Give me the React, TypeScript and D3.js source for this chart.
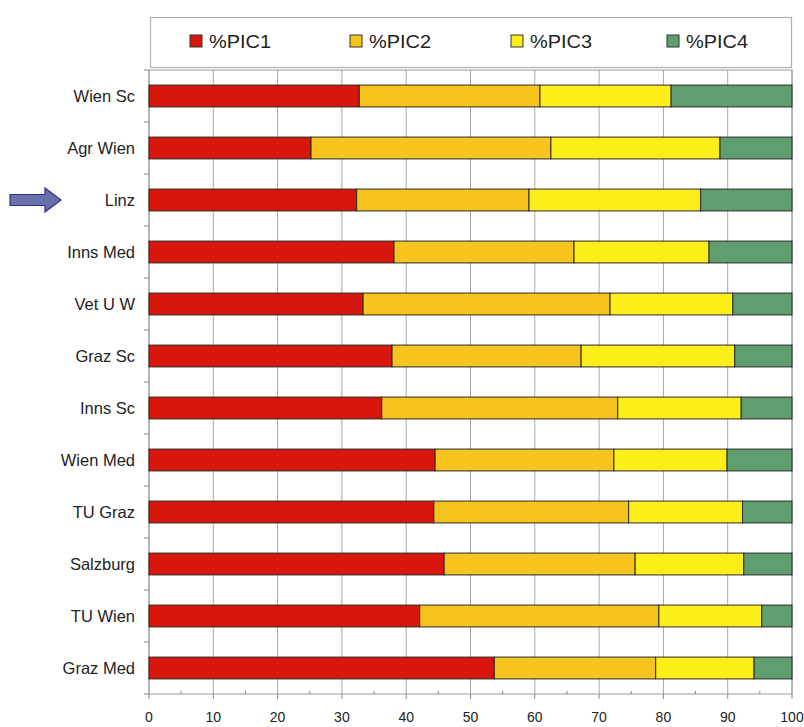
import React from "react";
import * as d3 from "d3";

const categories = ["Wien Sc", "Agr Wien", "Linz", "Inns Med", "Vet U W", "Graz Sc", "Inns Sc", "Wien Med", "TU Graz", "Salzburg", "TU Wien", "Graz Med"];
const seriesNames = ["%PIC1", "%PIC2", "%PIC3", "%PIC4"];
const pic1 = [32.7, 25.2, 32.3, 38.1, 33.3, 37.8, 36.2, 44.5, 44.3, 45.9, 42.1, 53.7];
const pic2 = [28.1, 37.3, 26.8, 28.0, 38.4, 29.4, 36.7, 27.8, 30.3, 29.7, 37.2, 25.1];
const pic3 = [20.4, 26.3, 26.7, 21.0, 19.1, 23.9, 19.2, 17.6, 17.7, 16.9, 16.0, 15.3];
const pic4 = [18.8, 11.2, 14.2, 12.9, 9.2, 8.9, 7.9, 10.1, 7.7, 7.5, 4.7, 5.9];
const xTicks = [0, 10, 20, 30, 40, 50, 60, 70, 80, 90, 100];
const colors = ["#d8160b", "#f6c41c", "#fcee18", "#5f9e6e"];
const highlighted = "Linz";

export default function App() {
  const W = 804, H = 727;
  const left = 149, right = 792, top = 70, bottom = 694;
  const x = d3.scaleLinear().domain([0, 100]).range([left, right]);
  const y = d3.scaleBand().domain(categories).range([top, bottom]).paddingInner(0.58).paddingOuter(0.29);
  const rows = categories.map((c, i) => ({ cat: c, PIC1: pic1[i], PIC2: pic2[i], PIC3: pic3[i], PIC4: pic4[i] }));
  const keys = ["PIC1", "PIC2", "PIC3", "PIC4"];
  const stacked = d3.stack().keys(keys)(rows as any);
  const band = (bottom - top) / categories.length;
  const font = "'Liberation Sans', Arial, sans-serif";
  const minor = d3.range(5, 100, 10);
  const legendX = [190, 350, 511, 667];
  const ly = y(highlighted)! + y.bandwidth() / 2;

  return (
    <svg width={W} height={H} style={{ position: "absolute", left: 0, top: 0 }} fontFamily={font}>
      <rect x={0} y={0} width={W} height={H} fill="#fff" />
      {/* legend */}
      <rect x={150.5} y={17.5} width={641} height={50} fill="#fff" stroke="#b0b0b0" strokeWidth={1.2} />
      {seriesNames.map((s, i) => (
        <g key={s}>
          <rect x={legendX[i]} y={35} width={12} height={12} fill={colors[i]} stroke="#333" strokeWidth={1} />
          <text x={legendX[i] + 19} y={48} fontSize={19} fill="#222" textLength={62} lengthAdjust="spacingAndGlyphs">{s}</text>
        </g>
      ))}
      {/* grid */}
      {xTicks.map(t => (
        <line key={"g" + t} x1={x(t)} x2={x(t)} y1={top} y2={bottom} stroke="#a8a8a8" strokeWidth={1} />
      ))}
      <rect x={left} y={top} width={right - left} height={bottom - top} fill="none" stroke="#9a9a9a" strokeWidth={1} />
      {/* bars */}
      {stacked.map((layer, si) => (
        <g key={layer.key}>
          {layer.map((d: any, i: number) => (
            <rect key={i} x={x(d[0])} y={y(categories[i])} width={x(d[1]) - x(d[0])} height={y.bandwidth()}
              fill={colors[si]} stroke="#2a2a2a" strokeWidth={1} />
          ))}
        </g>
      ))}
      {/* left ticks */}
      {d3.range(categories.length + 1).map(i => (
        <line key={"lt" + i} x1={left - 5} x2={left} y1={top + i * band} y2={top + i * band} stroke="#888" />
      ))}
      {/* category labels */}
      {categories.map(c => (
        <text key={c} x={135} y={y(c)! + y.bandwidth() / 2 + 6} textAnchor="end" fontSize={16.5} fill="#222">{c}</text>
      ))}
      {/* x axis */}
      {xTicks.map(t => (
        <g key={"xt" + t}>
          <line x1={x(t)} x2={x(t)} y1={bottom} y2={bottom + 5} stroke="#888" />
          <text x={x(t)} y={722} textAnchor="middle" fontSize={14} fill="#222">{t}</text>
        </g>
      ))}
      {minor.map(t => (
        <line key={"mt" + t} x1={x(t)} x2={x(t)} y1={bottom - 3} y2={bottom} stroke="#888" />
      ))}
      {/* arrow */}
      <path d={`M10,${ly - 5.5} L45,${ly - 5.5} L45,${ly - 12} L61,${ly} L45,${ly + 12} L45,${ly + 5.5} L10,${ly + 5.5} Z`}
        fill="#6a6fae" stroke="#2e3192" strokeWidth={1.2} />
    </svg>
  );
}
